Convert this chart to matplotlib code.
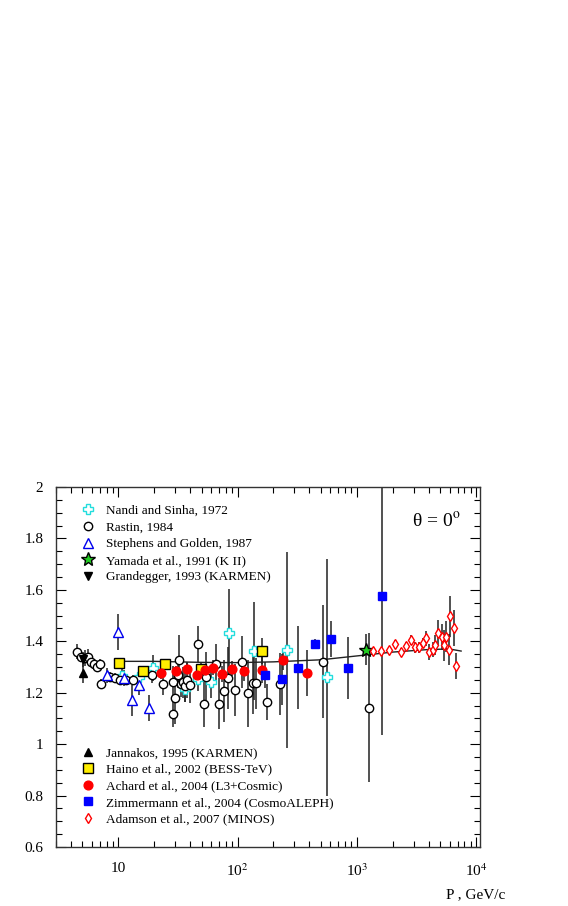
import matplotlib
matplotlib.use("Agg")
import matplotlib.pyplot as plt
from matplotlib.lines import Line2D

plt.rcParams['font.family'] = ['Liberation Serif', 'DejaVu Serif']
plt.rcParams['mathtext.fontset'] = 'stix'

# muon charge ratio vs momentum
nandi_p = [10.7, 15.0, 19.5, 36.5, 46.5, 60, 84, 137, 258, 565]
nandi_r = [1.265, 1.26, 1.295, 1.213, 1.255, 1.24, 1.432, 1.363, 1.366, 1.26]
nandi_e = [0.03, 0.03, 0.05, 0.05, 0.05, 0.06, 0.17, 0.19, 0.38, 0.46]

rastin_p = [4.5, 4.9, 5.3, 5.6, 5.9, 6.2, 6.6, 7.0, 7.1, 8.5, 9.4, 10.3, 11.6,
            13.4, 19.0, 23.8, 29.0, 29.8, 29.0, 31.9, 32.5, 33.5, 35.0, 36.5,
            38.0, 40.0, 46.9, 52.6, 54.3, 65.5, 70.0, 77.0, 83.6, 95.0, 108,
            123, 136, 143, 178, 226, 517, 1270]
rastin_r = [1.36, 1.34, 1.335, 1.34, 1.32, 1.31, 1.30, 1.31, 1.233, 1.262,
            1.256, 1.25, 1.25, 1.25, 1.268, 1.233, 1.242, 1.18, 1.117, 1.268,
            1.326, 1.235, 1.24, 1.225, 1.25, 1.23, 1.389, 1.158, 1.26, 1.31,
            1.158, 1.207, 1.256, 1.21, 1.32, 1.197, 1.236, 1.236, 1.163,
            1.233, 1.32, 1.141]
rastin_e = [0.03, 0.02, 0.03, 0.03, 0.02, 0.02, 0.02, 0.02, 0.02, 0.02, 0.02,
            0.02, 0.02, 0.02, 0.03, 0.04, 0.06, 0.10, 0.05, 0.05, 0.10, 0.05,
            0.06, 0.06, 0.07, 0.07, 0.07, 0.09, 0.10, 0.08, 0.10, 0.12, 0.12,
            0.10, 0.10, 0.13, 0.12, 0.10, 0.07, 0.12, 0.22, 0.29]

stephens_p = [8.0, 10.0, 11.2, 12.9, 15.0, 18.1]
stephens_r = [1.268, 1.437, 1.257, 1.17, 1.23, 1.14]
stephens_e = [0.03, 0.07, 0.03, 0.06, 0.04, 0.05]

yamada_p = [1186]
yamada_r = [1.368]
yamada_e = [0.06]

grandegger_p = [5.03]
grandegger_r = [1.33]
grandegger_e = [0.03]

jannakos_p = [5.09]
jannakos_r = [1.277]
jannakos_e = [0.04]

haino_p = [10.2, 16.0, 24.6, 49.0, 159]
haino_r = [1.316, 1.285, 1.311, 1.294, 1.362]
haino_e = [0.01, 0.015, 0.015, 0.02, 0.05]

achard_p = [22.8, 30.5, 37.9, 45.4, 53.4, 62.6, 74.4, 89.2, 113.7, 161, 242, 380]
achard_r = [1.275, 1.285, 1.294, 1.268, 1.288, 1.298, 1.272, 1.294, 1.285,
            1.288, 1.327, 1.277]
achard_e = [0.02, 0.02, 0.02, 0.02, 0.02, 0.03, 0.03, 0.03, 0.04, 0.05, 0.04, 0.09]

zimm_p = [170, 234, 319, 445, 603, 837, 1615]
zimm_r = [1.268, 1.252, 1.298, 1.389, 1.407, 1.297, 1.577]
zimm_e = [0.05, 0.10, 0.16, 0.02, 0.07, 0.12, 0.54]

minos_p = [1356, 1585, 1860, 2086, 2328, 2580, 2827, 3090, 3338, 3561, 3797,
           4047, 4318, 4515, 4810, 5140, 5370, 5580, 5960, 6030, 6550, 6770]
minos_r = [1.363, 1.363, 1.368, 1.389, 1.359, 1.381, 1.405, 1.376, 1.376,
           1.394, 1.411, 1.359, 1.368, 1.385, 1.433, 1.418, 1.385, 1.418,
           1.368, 1.498, 1.45, 1.304]
minos_e = [0.01, 0.01, 0.01, 0.015, 0.015, 0.015, 0.02, 0.02, 0.02, 0.02, 0.03,
           0.03, 0.03, 0.04, 0.05, 0.05, 0.06, 0.06, 0.06, 0.08, 0.07, 0.05]

# fitted curve
fit_p = [10, 20, 50, 100, 200, 500, 1000, 2000, 4000, 6000, 7500]
fit_r = [1.322, 1.322, 1.318, 1.317, 1.320, 1.328, 1.343, 1.358, 1.368, 1.370, 1.362]

CYAN = '#22dddd'

# (label, p, r, err, marker, size, face, edge)
series = [
    ("Nandi and Sinha, 1972", nandi_p, nandi_r, nandi_e, 'P', 6.5, 'white', CYAN),
    ("Rastin, 1984", rastin_p, rastin_r, rastin_e, 'o', 6, 'white', 'black'),
    ("Stephens and Golden, 1987", stephens_p, stephens_r, stephens_e, '^', 6.5, 'white', '#0000ee'),
    ("Yamada et al., 1991 (K II)", yamada_p, yamada_r, yamada_e, '*', 10, '#22cc22', 'black'),
    ("Grandegger, 1993 (KARMEN)", grandegger_p, grandegger_r, grandegger_e, 'v', 6, 'black', 'black'),
    ("Jannakos, 1995 (KARMEN)", jannakos_p, jannakos_r, jannakos_e, '^', 6, 'black', 'black'),
    ("Haino et al., 2002 (BESS-TeV)", haino_p, haino_r, haino_e, 's', 6.5, '#ffee00', 'black'),
    ("Achard et al., 2004 (L3+Cosmic)", achard_p, achard_r, achard_e, 'o', 6.3, '#ff0000', '#ff0000'),
    ("Zimmermann et al., 2004 (CosmoALEPH)", zimm_p, zimm_r, zimm_e, 's', 5.8, '#0000ff', '#0000ff'),
    ("Adamson et al., 2007 (MINOS)", minos_p, minos_r, minos_e, 'd', 5.5, 'white', '#ff0000'),
]


def draw_series(ax, s):
    """Error bars behind, markers on top."""
    label, p, r, e, marker, ms, face, edge = s
    ax.errorbar(p, r, yerr=e, fmt='none', ecolor='#222222', elinewidth=1.1,
                capsize=0, zorder=2)
    ax.plot(p, r, linestyle='none', marker=marker, markersize=ms,
            markerfacecolor=face, markeredgecolor=edge, markeredgewidth=1.0,
            zorder=4)


def handle(s):
    label, p, r, e, marker, ms, face, edge = s
    return Line2D([], [], linestyle='none', marker=marker, markersize=ms,
                  markerfacecolor=face, markeredgecolor=edge,
                  markeredgewidth=1.0, label=label)


fig = plt.figure(figsize=(5.68, 9.06), dpi=100)
ax = fig.add_axes([56/568, 1 - 847/906, 424/568, 360/906])

ax.plot(fit_p, fit_r, color='#222222', lw=1.0, zorder=3)
for s in series:
    draw_series(ax, s)

ax.set_xscale('log')
ax.set_xlim(3, 1.08e4)
ax.set_ylim(0.6, 2.0)
ax.set_yticks([0.6, 0.8, 1.0, 1.2, 1.4, 1.6, 1.8, 2.0])
ax.set_yticklabels(['0.6', '0.8', '1', '1.2', '1.4', '1.6', '1.8', '2'])
ax.set_yticks([0.6 + 0.05*i for i in range(29)], minor=True)
ax.set_xticks([10, 100, 1000, 10000])
ax.set_xticklabels(['10', '10$^{2}$', '10$^{3}$', '10$^{4}$'])
ax.tick_params(which='both', direction='in', top=True, right=True,
               labelsize=11, width=0.8)
ax.tick_params(which='major', length=7)
ax.tick_params(which='minor', length=4)
ax.tick_params(axis='x', pad=11)
ax.tick_params(axis='y', pad=9)
for sp in ax.spines.values():
    sp.set_linewidth(1.0)
    sp.set_color('#333333')

leg1 = ax.legend(handles=[handle(s) for s in series[:5]], loc='upper left',
                 bbox_to_anchor=(0.045, 0.965), frameon=False, fontsize=9.5,
                 handlelength=1.2, handletextpad=0.75, labelspacing=0.33,
                 borderaxespad=0.0)
ax.add_artist(leg1)
ax.legend(handles=[handle(s) for s in series[5:]], loc='lower left',
          bbox_to_anchor=(0.045, 0.045), frameon=False, fontsize=9.5,
          handlelength=1.2, handletextpad=0.75, labelspacing=0.33,
          borderaxespad=0.0)

ax.text(0.955, 0.905, 'θ = 0$^{\\mathrm{o}}$', transform=ax.transAxes,
        ha='right', va='center', fontsize=14)
fig.text(505/568, 1 - 895/906, 'P , GeV/c', ha='right', va='center',
         fontsize=11)

fig.savefig('out.png', dpi=100)
